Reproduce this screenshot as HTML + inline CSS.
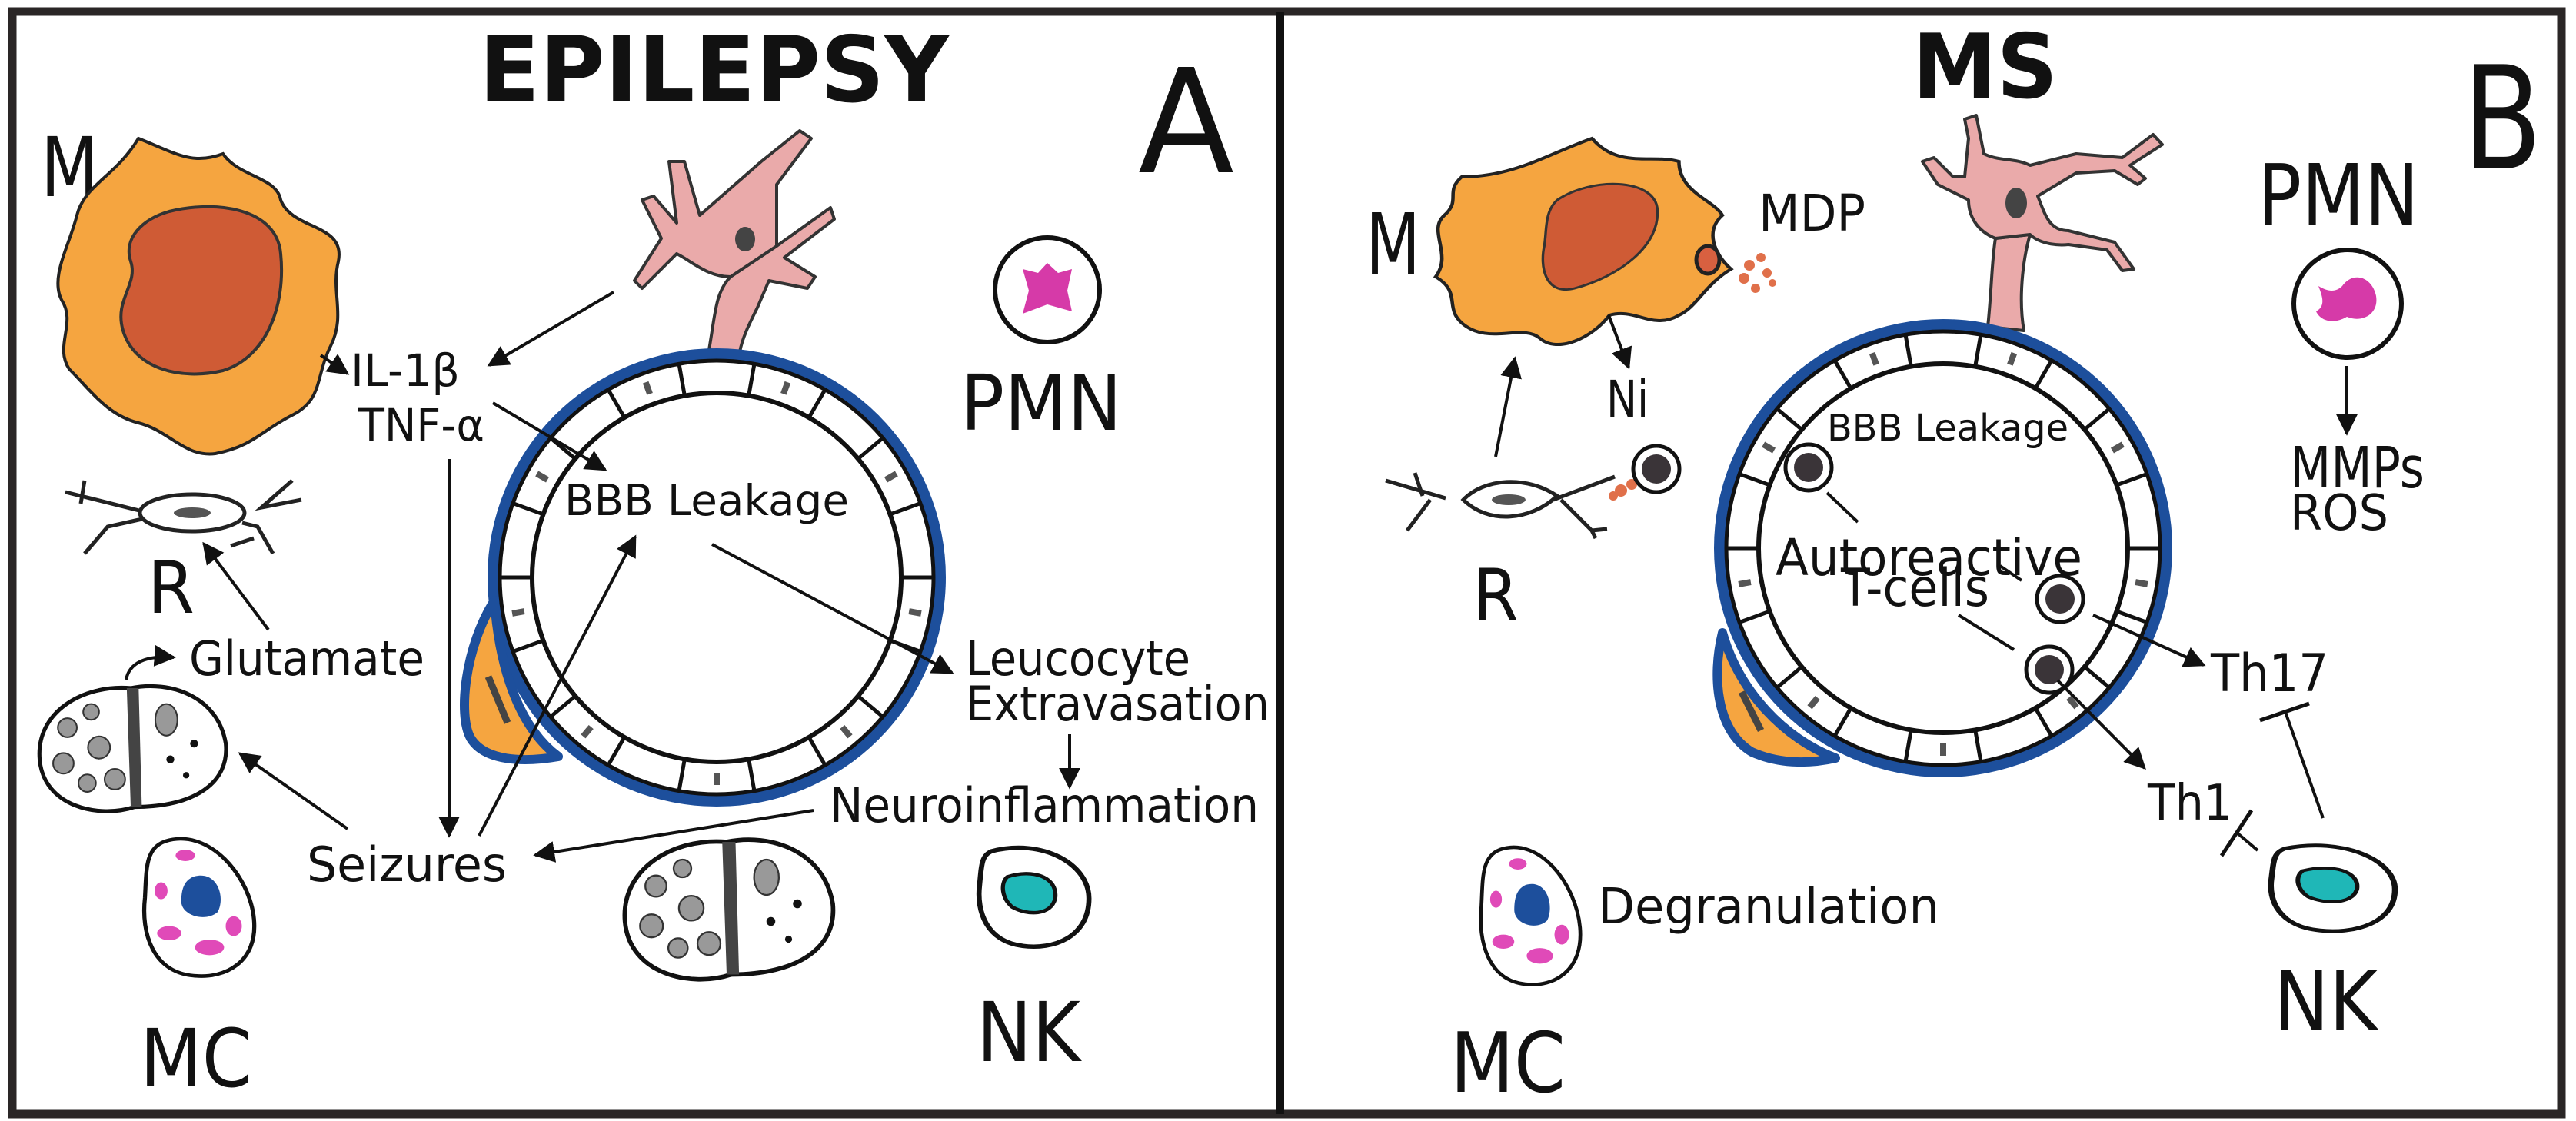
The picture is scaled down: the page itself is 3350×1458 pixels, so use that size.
<!DOCTYPE html>
<html><head><meta charset="utf-8"><style>html,body{margin:0;padding:0;background:#fff}svg{display:block}text{font-family:"DejaVu Sans","Liberation Sans",sans-serif;fill:#111}</style></head>
<body>
<svg width="3350" height="1458" viewBox="0 0 3350 1458" xmlns="http://www.w3.org/2000/svg">
<defs>
<marker id="ar" viewBox="0 0 10 10" refX="9" refY="5" markerWidth="7" markerHeight="7" orient="auto-start-reverse"><path d="M0,0 L10,5 L0,10 z" fill="#111"/></marker>
<g id="vessel">
  <circle cx="0" cy="0" r="298" fill="#1d4f9c"/>
  <circle cx="0" cy="0" r="282" fill="#fff" stroke="#111" stroke-width="5"/>
  <circle cx="0" cy="0" r="240" fill="#fff" stroke="#111" stroke-width="6"/>
  <g stroke="#111" stroke-width="5">
    <line x1="240" y1="0" x2="282" y2="0" transform="rotate(0)"/>
    <line x1="240" y1="0" x2="282" y2="0" transform="rotate(20)"/>
    <line x1="240" y1="0" x2="282" y2="0" transform="rotate(40)"/>
    <line x1="240" y1="0" x2="282" y2="0" transform="rotate(60)"/>
    <line x1="240" y1="0" x2="282" y2="0" transform="rotate(80)"/>
    <line x1="240" y1="0" x2="282" y2="0" transform="rotate(100)"/>
    <line x1="240" y1="0" x2="282" y2="0" transform="rotate(120)"/>
    <line x1="240" y1="0" x2="282" y2="0" transform="rotate(140)"/>
    <line x1="240" y1="0" x2="282" y2="0" transform="rotate(160)"/>
    <line x1="240" y1="0" x2="282" y2="0" transform="rotate(180)"/>
    <line x1="240" y1="0" x2="282" y2="0" transform="rotate(200)"/>
    <line x1="240" y1="0" x2="282" y2="0" transform="rotate(220)"/>
    <line x1="240" y1="0" x2="282" y2="0" transform="rotate(240)"/>
    <line x1="240" y1="0" x2="282" y2="0" transform="rotate(260)"/>
    <line x1="240" y1="0" x2="282" y2="0" transform="rotate(280)"/>
    <line x1="240" y1="0" x2="282" y2="0" transform="rotate(300)"/>
    <line x1="240" y1="0" x2="282" y2="0" transform="rotate(320)"/>
    <line x1="240" y1="0" x2="282" y2="0" transform="rotate(340)"/>
  </g>
  <g fill="#555">
    <rect x="254" y="-4" width="16" height="8" transform="rotate(10)"/>
    <rect x="254" y="-4" width="16" height="8" transform="rotate(50)"/>
    <rect x="254" y="-4" width="16" height="8" transform="rotate(90)"/>
    <rect x="254" y="-4" width="16" height="8" transform="rotate(130)"/>
    <rect x="254" y="-4" width="16" height="8" transform="rotate(170)"/>
    <rect x="254" y="-4" width="16" height="8" transform="rotate(210)"/>
    <rect x="254" y="-4" width="16" height="8" transform="rotate(250)"/>
    <rect x="254" y="-4" width="16" height="8" transform="rotate(290)"/>
    <rect x="254" y="-4" width="16" height="8" transform="rotate(330)"/>
  </g>
</g>
<g id="mc">
  <path d="M-45,-90 C10,-110 60,-40 65,20 C70,80 30,105 -10,100 C-60,95 -75,40 -70,-10 C-68,-50 -70,-80 -45,-90 z" fill="#fff" stroke="#111" stroke-width="5"/>
  <path d="M-10,-40 C20,-50 30,-10 20,10 C5,25 -25,15 -25,-5 C-25,-25 -20,-35 -10,-40z" fill="#1d4f9c"/>
  <g fill="#e04ab8"><ellipse cx="-40" cy="40" rx="15" ry="10"/><ellipse cx="10" cy="60" rx="18" ry="11"/><ellipse cx="40" cy="30" rx="10" ry="14"/><ellipse cx="-20" cy="-70" rx="12" ry="8"/><ellipse cx="-50" cy="-20" rx="8" ry="12"/></g>
</g>
<g id="nk">
  <path d="M-40,-50 C10,-65 55,-35 55,5 C55,50 20,65 -10,60 C-45,55 -55,20 -52,-10 C-50,-35 -50,-45 -40,-50z" fill="#fff" stroke="#111" stroke-width="5"/>
  <path d="M-25,-20 C0,-30 25,-20 22,5 C18,25 -5,25 -20,15 C-30,5 -32,-12 -25,-20z" fill="#1fb7b7" stroke="#111" stroke-width="4"/>
</g>
<g id="syn">
  <path d="M0,0 C-60,-5 -120,30 -115,90 C-110,150 -40,165 5,150 z" fill="#fff" stroke="#111" stroke-width="5"/>
  <path d="M0,0 C50,-10 110,10 120,70 C125,120 80,150 5,150" fill="#fff" stroke="#111" stroke-width="5"/>
  <path d="M-5,0 L10,0 L14,150 L0,150z" fill="#444"/>
  <g fill="#999" stroke="#333" stroke-width="2"><circle cx="-80" cy="50" r="12"/><circle cx="-50" cy="30" r="10"/><circle cx="-85" cy="95" r="13"/><circle cx="-40" cy="75" r="14"/><circle cx="-55" cy="120" r="11"/><circle cx="-20" cy="115" r="13"/><ellipse cx="45" cy="40" rx="14" ry="20"/></g>
  <g fill="#111"><circle cx="50" cy="90" r="5"/><circle cx="80" cy="70" r="5"/><circle cx="70" cy="110" r="4"/></g>
</g>
<g id="tc"><circle r="30" fill="#fff" stroke="#111" stroke-width="5"/><circle r="19" fill="#3a3438"/></g>
</defs>

<rect x="0" y="0" width="3350" height="1458" fill="#fff"/>
<rect x="16" y="15" width="3315" height="1434" fill="none" stroke="#2a2626" stroke-width="11"/>
<line x1="1665" y1="15" x2="1665" y2="1449" stroke="#111" stroke-width="10"/>

<!-- PANEL A -->
<text x="623" y="132" font-size="119" font-weight="bold" textLength="611" lengthAdjust="spacingAndGlyphs">EPILEPSY</text>
<text x="1480" y="224" font-size="188" textLength="125" lengthAdjust="spacingAndGlyphs">A</text>
<text x="53" y="255" font-size="107" textLength="75" lengthAdjust="spacingAndGlyphs">M</text>
<path d="M180,180 C230,200 250,215 290,200 C310,230 360,230 365,260 C380,300 450,290 440,340 C430,380 450,410 430,450 C410,490 420,520 380,540 C340,560 330,580 280,590 C240,595 220,560 180,550 C140,540 120,510 90,480 C70,450 100,420 80,390 C65,360 90,320 100,280 C110,240 150,230 180,180z" fill="#f5a540" stroke="#222" stroke-width="4"/>
<path d="M220,275 C280,260 360,270 365,330 C372,400 345,465 290,482 C235,495 175,480 160,430 C148,390 180,370 170,340 C160,310 185,285 220,275z" fill="#cf5b35" stroke="#333" stroke-width="4"/>
<!-- astrocyte A -->
<g fill="#eaaaaa" stroke="#333" stroke-width="4" stroke-linejoin="round">
<path d="M922,455 C930,410 930,380 950,360 L1010,320 L1080,270 L1085,285 L1020,335 L1060,360 L1050,375 L1000,365 L985,400 C975,420 965,440 962,458z"/>
<path d="M950,360 C920,360 900,340 880,330 L835,375 L825,365 L860,310 L835,260 L850,255 L880,290 L870,210 L890,210 L910,280 L990,210 L1040,170 L1055,180 L1010,240 L1010,300 L1010,320z"/>
</g>
<ellipse cx="969" cy="311" rx="13" ry="16" fill="#444"/>
<g transform="translate(932,751)"><use href="#vessel"/></g>
<path d="M643,781 C605,840 595,930 612,960 C630,990 680,992 726,984 C680,950 650,880 643,781z" fill="#f5a540" stroke="#1d4f9c" stroke-width="12" stroke-linejoin="round"/>
<path d="M635,880 L660,940" stroke="#444" stroke-width="9"/>
<text x="734" y="670" font-size="55" textLength="370" lengthAdjust="spacingAndGlyphs">BBB Leakage</text>
<circle cx="1362" cy="377" r="68" fill="#fff" stroke="#111" stroke-width="6"/>
<path d="M1330,350 L1350,355 L1362,342 L1376,355 L1394,350 L1388,378 L1394,405 L1362,396 L1330,408 L1338,378z" fill="#d63aa8"/>
<text x="1249" y="559" font-size="100" textLength="210" lengthAdjust="spacingAndGlyphs">PMN</text>
<!-- R cell A -->
<g stroke="#222" stroke-width="5" fill="none"><path d="M85,640 L185,665 M110,625 L105,655 M110,720 L140,685 L185,675 M380,625 L340,660 L392,650 M355,720 L335,685 L315,680 M330,700 L300,710"/></g>
<ellipse cx="250" cy="667" rx="68" ry="24" fill="#fff" stroke="#222" stroke-width="5"/>
<ellipse cx="250" cy="667" rx="24" ry="7" fill="#555"/>
<text x="192" y="797" font-size="94" textLength="61" lengthAdjust="spacingAndGlyphs">R</text>
<text x="246" y="878" font-size="62" textLength="306" lengthAdjust="spacingAndGlyphs">Glutamate</text>
<path d="M164,884 C168,862 190,852 226,855" fill="none" stroke="#111" stroke-width="4" marker-end="url(#ar)"/>
<g transform="translate(170,895) scale(1.03,1.03)"><use href="#syn"/></g>
<g transform="translate(945,1095) scale(1.15,1.15)"><use href="#syn"/></g>
<text x="1256" y="878" font-size="62" textLength="292" lengthAdjust="spacingAndGlyphs">Leucocyte</text>
<text x="1256" y="937" font-size="62" textLength="395" lengthAdjust="spacingAndGlyphs">Extravasation</text>
<text x="1079" y="1069" font-size="62" textLength="558" lengthAdjust="spacingAndGlyphs">Neuroinflammation</text>
<text x="399" y="1146" font-size="62" textLength="260" lengthAdjust="spacingAndGlyphs">Seizures</text>
<text x="456" y="502" font-size="58" textLength="142" lengthAdjust="spacingAndGlyphs">IL-1β</text>
<text x="466" y="573" font-size="58" textLength="164" lengthAdjust="spacingAndGlyphs">TNF-α</text>
<g transform="translate(262,1177) scale(1.05,0.92)"><use href="#mc"/></g>
<text x="182" y="1413" font-size="104" textLength="146" lengthAdjust="spacingAndGlyphs">MC</text>
<g transform="translate(1343,1163) scale(1.33,1.12)"><use href="#nk"/></g>
<text x="1270" y="1380" font-size="107" textLength="135" lengthAdjust="spacingAndGlyphs">NK</text>
<g stroke="#111" stroke-width="4" fill="none" marker-end="url(#ar)">
<line x1="798" y1="380" x2="636" y2="475"/>
<line x1="417" y1="462" x2="452" y2="486"/>
<line x1="641" y1="524" x2="787" y2="611"/>
<line x1="584" y1="597" x2="584" y2="1087"/>
<line x1="623" y1="1087" x2="826" y2="698"/>
<line x1="926" y1="708" x2="1238" y2="875"/>
<line x1="1391" y1="955" x2="1391" y2="1024"/>
<line x1="1058" y1="1054" x2="696" y2="1112"/>
<line x1="452" y1="1078" x2="312" y2="980"/>
<line x1="349" y1="819" x2="265" y2="707"/>
</g>

<!-- PANEL B -->
<text x="2487" y="127" font-size="116" font-weight="bold" textLength="189" lengthAdjust="spacingAndGlyphs">MS</text>
<text x="3203" y="219" font-size="186" textLength="103" lengthAdjust="spacingAndGlyphs">B</text>
<text x="1776" y="356" font-size="110" textLength="71" lengthAdjust="spacingAndGlyphs">M</text>
<g transform="translate(1867,0) scale(1.13,1) translate(-1870,0)">
<path d="M1900,230 C1960,230 2000,200 2050,180 C2080,220 2120,200 2150,210 C2150,250 2190,260 2200,280 C2180,300 2190,330 2210,350 C2180,370 2170,400 2150,410 C2120,430 2100,400 2070,410 C2050,440 2010,460 1990,440 C1970,420 1930,450 1900,420 C1880,400 1900,380 1870,360 C1890,330 1860,300 1880,280 C1900,260 1880,250 1900,230z" fill="#f5a540" stroke="#222" stroke-width="4"/>
<path d="M2010,260 C2050,230 2120,232 2125,270 C2130,320 2080,360 2030,375 C1995,385 1990,345 1995,320 C1998,300 1995,275 2010,260z" fill="#cf5b35" stroke="#333" stroke-width="3"/>
</g>
<ellipse cx="2221" cy="338" rx="15" ry="18" fill="#d86040" stroke="#222" stroke-width="5"/>
<g fill="#e0704a"><circle cx="2275" cy="345" r="7"/><circle cx="2290" cy="335" r="6"/><circle cx="2268" cy="362" r="7"/><circle cx="2298" cy="355" r="6"/><circle cx="2283" cy="375" r="6"/><circle cx="2305" cy="368" r="5"/></g>
<text x="2287" y="300" font-size="66" textLength="139" lengthAdjust="spacingAndGlyphs">MDP</text>
<text x="2089" y="542" font-size="66" textLength="55" lengthAdjust="spacingAndGlyphs">Ni</text>
<g stroke="#222" stroke-width="5" fill="none"><path d="M1802,625 L1880,648 M1840,615 L1850,645 M1830,690 L1860,650 M2100,620 L2020,650 M2030,650 L2070,690 L2090,688 M2070,690 L2075,700"/></g>
<path d="M1903,650 C1930,622 1985,618 2025,645 C1990,678 1935,682 1903,650z" fill="#fff" stroke="#222" stroke-width="5"/>
<ellipse cx="1962" cy="650" rx="22" ry="7" fill="#555"/>
<g fill="#e0704a"><circle cx="2108" cy="638" r="8"/><circle cx="2122" cy="630" r="7"/><circle cx="2098" cy="645" r="6"/></g>
<g transform="translate(2154,610)"><use href="#tc"/></g>
<text x="1915" y="807" font-size="94" textLength="60" lengthAdjust="spacingAndGlyphs">R</text>
<!-- astrocyte B -->
<g fill="#eaaaaa" stroke="#333" stroke-width="4" stroke-linejoin="round">
<path d="M2585,425 C2590,380 2590,340 2595,310 L2640,305 C2630,340 2625,390 2632,430z"/>
<path d="M2595,310 C2570,300 2560,280 2560,260 L2520,240 L2500,210 L2515,205 L2540,230 L2555,230 L2560,180 L2555,155 L2570,150 L2580,200 C2600,210 2620,205 2640,215 L2700,200 L2760,205 L2800,175 L2812,188 L2770,215 L2790,232 L2780,240 L2750,222 L2700,225 L2650,255 C2660,280 2665,300 2690,300 L2750,315 L2775,350 L2760,352 L2740,325 L2690,318 C2670,320 2650,315 2640,305z"/>
</g>
<ellipse cx="2622" cy="264" rx="14" ry="20" fill="#444"/>
<g transform="translate(2527,713)"><use href="#vessel"/></g>
<path d="M2240,823 C2226,880 2232,950 2278,978 C2318,996 2360,992 2387,986 C2320,960 2262,900 2240,823z" fill="#f5a540" stroke="#1d4f9c" stroke-width="12" stroke-linejoin="round"/>
<path d="M2265,900 L2290,950" stroke="#444" stroke-width="9"/>
<text x="2376" y="573" font-size="48" textLength="314" lengthAdjust="spacingAndGlyphs">BBB Leakage</text>
<g transform="translate(2352,608)"><use href="#tc"/></g>
<g transform="translate(2679,779)"><use href="#tc"/></g>
<g transform="translate(2665,871)"><use href="#tc"/></g>
<text x="2309" y="748" font-size="66" textLength="399" lengthAdjust="spacingAndGlyphs">Autoreactive</text>
<text x="2394" y="788" font-size="68" textLength="193" lengthAdjust="spacingAndGlyphs">T-cells</text>
<text x="2875" y="899" font-size="68" textLength="153" lengthAdjust="spacingAndGlyphs">Th17</text>
<text x="2793" y="1066" font-size="64" textLength="110" lengthAdjust="spacingAndGlyphs">Th1</text>
<circle cx="3053" cy="395" r="70" fill="#fff" stroke="#111" stroke-width="6"/>
<path d="M3015,372 C3028,380 3038,380 3046,372 C3060,352 3085,360 3090,385 C3094,410 3070,420 3052,412 C3035,422 3018,418 3012,405 C3025,398 3020,385 3015,372z" fill="#d63aa8"/>
<text x="2936" y="292" font-size="110" textLength="210" lengthAdjust="spacingAndGlyphs">PMN</text>
<text x="2978" y="634" font-size="74" textLength="175" lengthAdjust="spacingAndGlyphs">MMPs</text>
<text x="2978" y="689" font-size="64" textLength="128" lengthAdjust="spacingAndGlyphs">ROS</text>
<g transform="translate(1993,1188) scale(0.95,0.92)"><use href="#mc"/></g>
<text x="2078" y="1201" font-size="64" textLength="444" lengthAdjust="spacingAndGlyphs">Degranulation</text>
<text x="1886" y="1420" font-size="108" textLength="150" lengthAdjust="spacingAndGlyphs">MC</text>
<g transform="translate(3032,1152) scale(1.5,0.97)"><use href="#nk"/></g>
<text x="2957" y="1340" font-size="107" textLength="135" lengthAdjust="spacingAndGlyphs">NK</text>
<g stroke="#111" stroke-width="4" fill="none">
<line x1="1945" y1="594" x2="1970" y2="466" marker-end="url(#ar)"/>
<line x1="2092" y1="410" x2="2118" y2="478" marker-end="url(#ar)"/>
<line x1="3052" y1="476" x2="3052" y2="564" marker-end="url(#ar)"/>
<line x1="2376" y1="641" x2="2416" y2="679"/>
<line x1="2601" y1="736" x2="2629" y2="755"/>
<line x1="2547" y1="800" x2="2619" y2="845"/>
<line x1="2722" y1="800" x2="2866" y2="865" marker-end="url(#ar)"/>
<line x1="2676" y1="885" x2="2789" y2="999" marker-end="url(#ar)"/>
<line x1="2936" y1="1106" x2="2909" y2="1083"/>
<line x1="2889" y1="1113" x2="2928" y2="1054" stroke-width="5"/>
<line x1="3021" y1="1064" x2="2972" y2="926"/>
<line x1="2939" y1="937" x2="3003" y2="915" stroke-width="5"/>
</g>
</svg>
</body></html>
